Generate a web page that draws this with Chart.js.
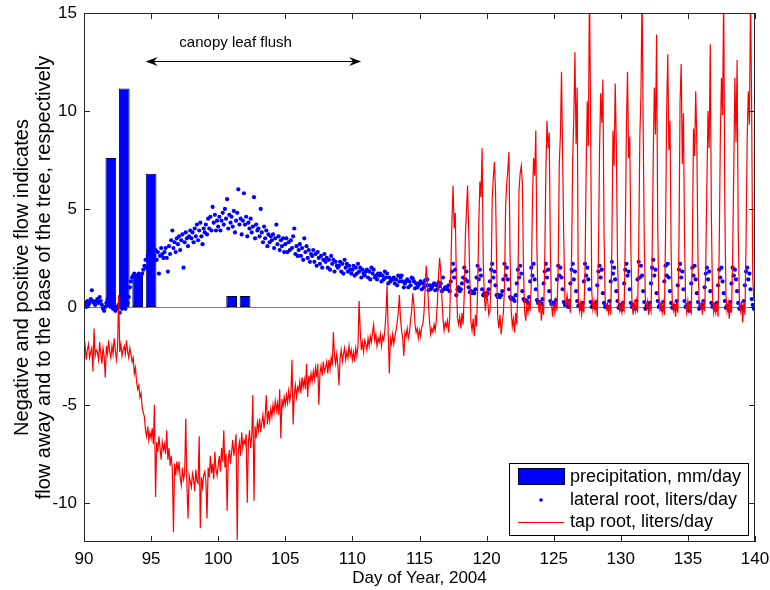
<!DOCTYPE html>
<html><head><meta charset="utf-8">
<script src="https://cdn.jsdelivr.net/npm/chart.js@4.4.1/dist/chart.umd.min.js"></script>
<style>html,body{margin:0;padding:0;background:#fff;}canvas{display:block;}</style>
</head><body>
<canvas id="c" width="770" height="590"></canvas>
<script>
const FONT = '"Liberation Sans", Arial, Helvetica, sans-serif';

// ---- data ----
const xTicks = [90, 95, 100, 105, 110, 115, 120, 125, 130, 135, 140];
const yTicks = [-10, -5, 0, 5, 10, 15];
const seriesLabels = ['precipitation, mm/day', 'lateral root, liters/day', 'tap root, liters/day'];
const axisTitleX = 'Day of Year, 2004';
const axisTitleY = ['Negative and positive flow indicates', 'flow away and to the base of the tree, respectively'];
const annotationText = 'canopy leaf flush';

const precipDays = [92, 93, 94, 95, 101, 102];
const precipValues = [7.6, 11.15, 1.6, 6.8, 0.55, 0.55];

// sampled every 2 hours from day 90.0
const sampleStartDay = 90;
const samplesPerDay = 12;

const lateralRoot = [
0.1,0.2,0.0,0.3,0.1,0.2,0.4,0.85,0.3,0.2,0.1,0.3,
0.4,0.2,0.5,0.3,0.1,-0.1,-0.2,0.0,0.2,0.4,0.3,0.1,
0.0,0.1,-0.1,0.0,-0.2,0.0,-0.1,0.1,-0.3,0.0,-0.1,0.0,
0.0,-0.1,0.1,0.2,0.5,1.0,1.3,1.5,1.6,1.7,1.5,1.6,
1.6,1.7,1.5,1.6,1.7,1.9,2.1,2.4,2.0,2.6,2.3,2.8,
2.5,2.7,3.0,2.6,2.9,2.4,2.8,1.7,2.6,3.0,2.7,2.5,
2.8,3.0,2.5,1.8,3.1,2.7,3.4,3.9,3.0,3.3,2.8,3.5,
3.2,3.6,2.9,3.4,3.7,2.0,3.3,3.8,3.5,3.1,3.6,3.9,
3.5,3.8,3.3,4.0,3.6,4.2,3.4,3.9,4.3,3.6,3.2,4.0,
3.8,4.2,3.7,4.5,4.0,4.6,3.9,5.1,4.3,4.7,3.9,4.4,
4.1,4.6,3.9,4.4,4.8,4.2,5.0,4.5,5.5,4.0,4.7,4.3,
4.6,4.1,4.9,3.8,4.4,4.8,6.0,4.2,4.5,3.7,4.4,5.8,
4.2,4.6,3.6,4.3,4.0,4.5,3.8,4.1,5.6,3.5,4.2,3.9,
4.0,3.6,5.0,3.8,3.3,4.1,3.5,3.9,3.1,3.7,3.3,3.6,
3.4,3.7,3.0,3.5,4.2,3.2,3.6,2.9,3.4,3.1,3.5,2.8,
3.2,3.5,2.8,3.3,2.9,3.4,3.0,3.6,4.0,2.7,3.1,2.6,
2.9,3.2,2.6,3.0,2.4,3.5,2.8,3.1,2.5,2.9,2.3,2.7,
2.6,2.9,2.3,2.7,2.1,2.8,2.5,2.2,2.6,2.0,2.4,2.7,
2.3,2.5,2.0,2.4,1.9,2.6,2.2,2.4,1.8,2.3,2.1,2.0,
2.1,2.3,1.8,2.2,1.7,2.4,2.0,2.2,1.8,2.1,1.9,1.7,
1.9,2.1,1.6,2.0,1.7,2.2,1.8,2.0,1.5,1.9,1.7,1.6,
1.8,1.9,1.5,1.8,1.4,2.0,1.7,1.9,1.5,1.6,1.4,1.7,
1.6,1.7,1.3,1.6,1.4,1.8,1.5,1.7,1.2,1.5,1.3,1.4,
1.4,1.5,1.2,1.4,1.1,1.6,1.3,1.5,1.6,1.3,1.0,1.2,
1.3,1.4,1.0,1.3,1.1,1.5,1.45,1.3,0.95,1.2,1.0,1.1,
1.2,1.3,0.9,1.2,1.0,1.35,1.1,1.4,0.85,1.1,0.9,1.0,
1.1,1.2,0.85,1.1,0.9,1.25,1.05,1.2,0.8,1.5,0.9,1.0,
1.0,0.9,1.1,0.8,1.3,1.8,2.2,1.5,1.9,0.6,0.9,1.0,
0.8,0.9,1.2,1.5,2.0,1.4,1.8,1.3,1.0,0.75,0.8,0.7,
0.75,0.7,0.9,1.5,2.1,1.4,1.9,1.6,0.9,0.6,0.7,0.55,
0.6,0.7,0.9,1.3,1.9,2.2,1.5,1.8,1.1,0.6,0.5,0.6,
0.5,0.6,0.8,1.4,2.2,1.6,2.0,1.4,0.9,0.5,0.4,0.45,
0.4,0.3,0.6,1.2,1.9,1.5,2.1,1.7,0.8,0.4,0.3,0.35,
0.3,0.2,0.5,1.3,2.0,1.6,2.2,1.4,0.9,0.35,0.2,0.25,
0.25,0.15,0.4,1.2,1.8,2.2,1.5,1.9,0.8,0.3,0.15,0.2,
0.2,0.1,0.35,1.4,2.1,1.6,2.0,1.5,0.9,0.25,0.1,0.15,
0.1,0.0,0.3,1.2,1.9,2.2,1.4,1.8,0.8,0.3,0.05,0.1,
0.05,-0.1,0.2,1.3,2.2,1.6,2.0,1.4,0.9,0.25,0.0,0.1,
0.1,-0.05,0.25,1.1,1.8,2.1,1.5,1.9,0.7,0.2,0.0,0.05,
0.0,-0.1,0.3,1.3,2.3,1.7,2.0,1.4,0.8,0.3,-0.05,0.1,
0.05,-0.15,0.2,1.2,1.9,2.2,1.6,1.8,0.9,0.2,0.0,0.1,
0.0,-0.1,0.3,1.4,2.3,1.5,2.1,1.6,0.8,0.25,-0.1,0.05,
0.1,-0.05,0.2,1.2,2.0,2.4,1.6,1.9,0.7,0.3,0.0,0.1,
0.0,-0.15,0.25,1.3,2.1,1.6,2.2,1.5,0.8,0.2,-0.05,0.05,
0.05,-0.1,0.3,1.1,1.9,2.2,1.5,1.8,0.9,0.3,0.0,0.1,
0.0,-0.2,0.2,1.2,2.0,1.6,2.1,1.4,0.7,0.25,-0.1,0.05,
0.1,-0.05,0.3,1.0,1.7,2.0,1.4,1.8,0.8,0.2,0.0,0.1,
0.0,-0.15,0.2,1.1,1.9,1.5,2.0,1.3,0.7,0.3,-0.05,0.05,
0.05,-0.2,0.25,1.2,2.0,1.6,1.9,1.4,0.8,0.2,-0.1,0.0,
0.0,-0.1,0.3,1.1,1.8,2.0,1.4,1.7,0.9,0.4,0.1,-0.1,
0.0
];

const tapRoot = [
-2.4,-2.0,-2.7,-2.2,-1.9,-2.6,-2.3,-2.1,-3.3,-1.1,-2.5,-2.2,
-2.3,-2.7,-1.8,-2.4,-2.9,-2.1,-2.5,-3.6,-2.0,-2.4,-1.7,-2.3,
-2.6,-2.0,-2.4,-1.6,-2.2,-2.7,-2.1,0.6,-2.3,-1.9,-2.5,-2.2,
-2.0,-2.4,-1.7,-2.3,-2.6,-2.1,-2.4,-2.8,-2.6,-3.4,-3.1,-3.8,
-4.2,-4.0,-4.6,-4.4,-5.1,-5.4,-5.6,-6.3,-6.6,-6.1,-6.8,-6.4,
-6.7,-6.2,-7.0,-5.0,-9.7,-6.9,-7.4,-6.6,-7.2,-7.8,-6.9,-7.3,
-7.0,-7.5,-6.3,-7.8,-7.2,-8.1,-7.6,-8.3,-11.5,-8.0,-8.6,-7.9,
-8.4,-7.9,-8.7,-9.1,-8.2,-8.8,-8.5,-5.7,-9.0,-10.8,-8.6,-8.9,
-9.2,-8.5,-8.8,-9.4,-8.3,-8.9,-9.0,-6.6,-11.3,-8.7,-9.2,-8.6,
-8.4,-8.9,-10.8,-8.2,-8.7,-7.6,-8.5,-8.0,-8.8,-7.4,-8.3,-8.6,
-8.1,-7.6,-8.4,-7.2,-7.9,-6.3,-8.2,-7.5,-10.4,-7.8,-7.3,-8.0,
-7.4,-6.8,-7.6,-7.1,-6.5,-11.9,-7.3,-6.9,-7.6,-6.4,-7.2,-6.8,
-7.0,-6.5,-10.0,-6.9,-6.3,-7.2,-6.6,-4.5,-9.9,-6.1,-6.7,-5.9,
-6.3,-5.7,-6.4,-5.9,-5.5,-6.2,-5.6,-4.5,-6.0,-5.3,-5.8,-5.2,
-5.6,-5.0,-5.4,-4.8,-5.3,-4.9,-5.5,-4.2,-6.7,-4.7,-5.1,-4.6,
-5.0,-4.5,-4.9,-4.3,-4.8,-4.4,-2.7,-6.0,-4.5,-4.0,-4.6,-4.1,
-4.3,-3.8,-4.4,-3.6,-4.1,-3.7,-4.2,-2.9,-4.6,-3.5,-3.9,-3.4,
-3.8,-3.3,-3.7,-3.1,-3.6,-2.9,-5.0,-3.4,-3.0,-3.5,-2.8,-3.3,
-3.1,-2.8,-3.4,-2.7,-3.2,-2.6,-3.0,-1.3,-2.5,-2.9,-2.4,-3.0,
-4.0,-2.6,-2.2,-2.8,-2.4,-2.1,-2.7,-2.3,-2.6,-2.0,-2.5,-2.2,
-2.7,-2.3,-2.8,-2.1,-2.5,-2.0,0.3,-1.2,-2.2,-1.8,-2.3,-1.7,
-1.9,-2.2,-1.6,-2.0,-1.5,-1.8,-1.3,-0.9,-1.7,-1.4,-2.0,-1.6,
-1.8,-1.4,-2.0,-1.5,-1.7,-1.2,-0.4,1.1,-1.3,-3.4,-1.6,-1.9,
-1.4,-1.9,-1.5,-1.2,-0.8,-0.3,0.6,-0.6,-1.2,-1.6,-2.5,-1.3,
-1.5,-1.1,-1.6,-1.3,-0.7,-0.2,0.7,0.1,-0.9,-1.3,-1.1,-1.6,
-1.2,-1.5,-1.0,-0.9,-0.3,0.9,2.1,1.4,0.2,-0.8,-1.4,-1.1,
-1.3,-0.9,-1.2,-0.7,0.2,1.6,2.5,1.8,0.5,-0.6,-1.2,-0.8,
-1.0,-0.7,-1.3,-0.5,1.8,4.4,6.2,4.0,4.8,1.2,-0.6,-0.9,
-0.5,-1.1,-0.3,-0.9,0.6,3.6,4.9,6.2,3.9,1.4,-0.8,-1.2,
-0.6,-1.5,-0.4,-1.0,0.9,4.2,6.4,5.6,8.1,2.3,0.5,-0.2,
0.7,0.3,-0.4,-0.2,1.2,5.5,6.6,7.4,5.9,2.0,-0.6,-1.1,
-0.4,-1.4,-0.8,-0.3,1.0,5.1,6.3,7.0,7.9,2.6,-0.2,-1.0,
-0.6,-1.3,-0.3,-0.9,0.9,6.0,6.8,7.2,6.3,1.8,-0.2,-0.7,
0.1,-0.3,0.2,-0.2,1.3,5.4,7.6,6.7,9.0,2.9,0.3,-0.3,
0.3,-0.7,0.1,-0.4,2.4,6.9,9.5,8.1,8.9,3.0,0.2,-0.5,
0.2,-0.3,0.3,-0.2,2.0,7.3,8.8,12.0,7.6,3.5,0.4,0.1,
0.6,0.1,0.3,-0.3,2.6,7.6,9.7,13.0,8.3,11.2,0.5,-0.2,
0.2,-0.4,0.1,-0.3,1.8,6.9,10.5,8.2,16.5,9.6,0.8,-0.1,
0.3,-0.2,0.2,-0.5,2.7,8.0,10.9,9.4,11.6,3.8,0.4,-0.1,
0.2,-0.3,0.1,-0.4,3.1,9.0,7.2,11.4,8.3,2.6,0.3,-0.2,
0.1,-0.3,0.2,-0.1,3.4,9.1,12.0,7.6,8.7,2.9,0.2,-0.4,
0.2,-0.2,0.3,-0.3,2.9,8.6,10.8,16.0,9.2,3.3,0.4,0.0,
0.3,-0.4,0.1,-0.2,2.5,7.6,11.2,8.8,13.9,4.1,0.5,-0.1,
0.2,-0.3,0.2,-0.4,3.6,10.0,12.9,8.0,9.5,2.8,0.3,-0.2,
0.1,-0.5,0.2,-0.3,3.2,10.5,12.4,7.3,9.9,3.5,0.2,-0.3,
0.3,-0.2,0.1,-0.4,2.8,9.1,7.7,11.0,8.4,2.4,0.3,0.0,
0.2,-0.4,0.3,-0.2,2.2,6.4,10.0,8.1,13.4,4.6,0.5,-0.3,
0.1,-0.3,0.2,-0.5,3.0,8.6,11.7,9.8,16.0,5.2,0.6,-0.2,
0.2,-0.6,0.1,-0.3,2.6,6.9,11.7,8.4,12.6,3.9,0.4,-0.2,
0.3,-0.8,0.2,-0.4,3.3,8.6,11.0,9.3,16.0,10.2,1.5,0.3,
1.0
];

// annotation placement (data units)
const annotationFrom = 94.6, annotationTo = 110.65, annotationLevel = 12.55;
const annotationTextDay = 101.3, annotationTextLevel = 13.5;

// ---- helpers ----
const toPoints = arr => arr.map((v, i) => ({ x: sampleStartDay + i / samplesPerDay, y: v }));
const BLUE = '#0000ff', RED = '#ff0000', AXIS = '#262626';

const decor = {
  id: 'decor',
  beforeDatasetsDraw(chart) {
    const { ctx, chartArea: a, scales: { y } } = chart;
    ctx.save();
    ctx.strokeStyle = '#7a7a7a'; ctx.lineWidth = 1;
    const y0 = Math.round(y.getPixelForValue(0)) + 0.5;
    ctx.beginPath(); ctx.moveTo(a.left, y0); ctx.lineTo(a.right, y0); ctx.stroke();
    ctx.restore();
  },
  afterDatasetsDraw(chart) {
    const { ctx, chartArea: a, scales: { x, y } } = chart;
    ctx.save();
    // frame
    ctx.strokeStyle = AXIS; ctx.lineWidth = 1;
    ctx.strokeRect(a.left + 0.5, a.top + 0.5, a.right - a.left - 1, a.bottom - a.top - 1);
    // inward ticks
    const tl = 6;
    ctx.beginPath();
    xTicks.forEach(v => {
      const px = Math.round(x.getPixelForValue(v)) + 0.5;
      ctx.moveTo(px, a.bottom); ctx.lineTo(px, a.bottom - tl);
      ctx.moveTo(px, a.top); ctx.lineTo(px, a.top + tl);
    });
    yTicks.forEach(v => {
      const py = Math.round(y.getPixelForValue(v)) + 0.5;
      ctx.moveTo(a.left, py); ctx.lineTo(a.left + tl, py);
      ctx.moveTo(a.right, py); ctx.lineTo(a.right - tl, py);
    });
    ctx.stroke();

    // annotation: double arrow + text
    const ax0 = x.getPixelForValue(annotationFrom), ax1 = x.getPixelForValue(annotationTo);
    const ay = Math.round(y.getPixelForValue(annotationLevel)) + 0.5;
    ctx.strokeStyle = '#000'; ctx.fillStyle = '#000'; ctx.lineWidth = 1;
    ctx.beginPath(); ctx.moveTo(ax0 + 4, ay); ctx.lineTo(ax1 - 4, ay); ctx.stroke();
    const head = (tx, dir) => {
      ctx.beginPath();
      ctx.moveTo(tx, ay);
      ctx.lineTo(tx + dir * 12, ay - 4.5);
      ctx.lineTo(tx + dir * 8, ay);
      ctx.lineTo(tx + dir * 12, ay + 4.5);
      ctx.closePath(); ctx.fill();
    };
    head(ax0, 1); head(ax1, -1);
    ctx.font = '15px ' + FONT;
    ctx.textAlign = 'center'; ctx.textBaseline = 'middle';
    ctx.fillText(annotationText, x.getPixelForValue(annotationTextDay), y.getPixelForValue(annotationTextLevel));

    // legend
    const lw = 239, lh = 72;
    const lx = a.right - 7 - lw, ly = a.bottom - 7 - lh;
    ctx.fillStyle = '#fff';
    ctx.fillRect(lx, ly, lw, lh);
    ctx.strokeStyle = '#000';
    ctx.strokeRect(Math.round(lx) + 0.5, Math.round(ly) + 0.5, lw, lh);
    const rows = [ly + 14, ly + 37, ly + 59];
    ctx.fillStyle = BLUE;
    ctx.fillRect(lx + 9, ly + 5, 46, 16);
    ctx.strokeStyle = '#000040';
    ctx.strokeRect(Math.round(lx + 9) + 0.5, Math.round(ly + 5) + 0.5, 46, 16);
    ctx.fillStyle = BLUE;
    ctx.beginPath(); ctx.arc(lx + 32, rows[1], 1.8, 0, Math.PI * 2); ctx.fill();
    ctx.strokeStyle = RED; ctx.lineWidth = 1;
    ctx.beginPath(); ctx.moveTo(lx + 9, Math.round(rows[2]) + 0.5); ctx.lineTo(lx + 55, Math.round(rows[2]) + 0.5); ctx.stroke();
    ctx.fillStyle = '#000';
    ctx.font = '18px ' + FONT;
    ctx.textAlign = 'left'; ctx.textBaseline = 'middle';
    seriesLabels.forEach((t, i) => ctx.fillText(t, lx + 61, rows[i]));

    // axis titles
    ctx.textAlign = 'center'; ctx.textBaseline = 'middle';
    ctx.font = '17px ' + FONT;
    ctx.fillText(axisTitleX, (a.left + a.right) / 2, 578);
    ctx.font = '20px ' + FONT;
    const cy = (a.top + a.bottom) / 2;
    [22, 44].forEach((cx, i) => {
      ctx.save();
      ctx.translate(cx, cy);
      ctx.rotate(-Math.PI / 2);
      ctx.fillText(axisTitleY[i], 0, 0);
      ctx.restore();
    });
    ctx.restore();
  }
};

const zeroPad = s => { s.paddingLeft = 0; s.paddingRight = 0; s.paddingTop = 0; s.paddingBottom = 0; };

new Chart(document.getElementById('c').getContext('2d'), {
  type: 'bar',
  data: {
    datasets: [
      {
        type: 'line', label: seriesLabels[2], data: toPoints(tapRoot),
        borderColor: RED, borderWidth: 1.2, pointRadius: 0, tension: 0, fill: false, order: 1
      },
      {
        type: 'line', label: seriesLabels[1], data: toPoints(lateralRoot),
        showLine: false, pointRadius: 2.1, pointBackgroundColor: BLUE, pointBorderColor: BLUE,
        pointBorderWidth: 0, pointStyle: 'circle', order: 2
      },
      {
        type: 'bar', label: seriesLabels[0],
        data: precipDays.map((d, i) => ({ x: d, y: precipValues[i] })),
        backgroundColor: BLUE, borderColor: '#000040', borderWidth: 1, borderSkipped: false,
        barPercentage: 0.8, categoryPercentage: 1.0, order: 3
      }
    ]
  },
  options: {
    responsive: false, animation: false, devicePixelRatio: 1, events: [],
    layout: { padding: { left: 0, right: 15, top: 13, bottom: 0 } },
    plugins: { legend: { display: false }, tooltip: { enabled: false } },
    scales: {
      x: {
        type: 'linear', min: 90, max: 140, offset: false,
        grid: { display: false, drawTicks: false, offset: false }, border: { display: false },
        ticks: { stepSize: 5, autoSkip: false, maxRotation: 0, padding: 7, color: '#000', font: { family: FONT, size: 17 } },
        afterFit: s => { s.height = 48; zeroPad(s); }
      },
      y: {
        type: 'linear', min: -12, max: 15,
        grid: { display: false, drawTicks: false }, border: { display: false },
        ticks: { stepSize: 5, includeBounds: false, padding: 7, color: '#000', font: { family: FONT, size: 17 } },
        afterFit: s => { s.width = 84; zeroPad(s); }
      }
    }
  },
  plugins: [decor]
});
</script>
</body></html>
